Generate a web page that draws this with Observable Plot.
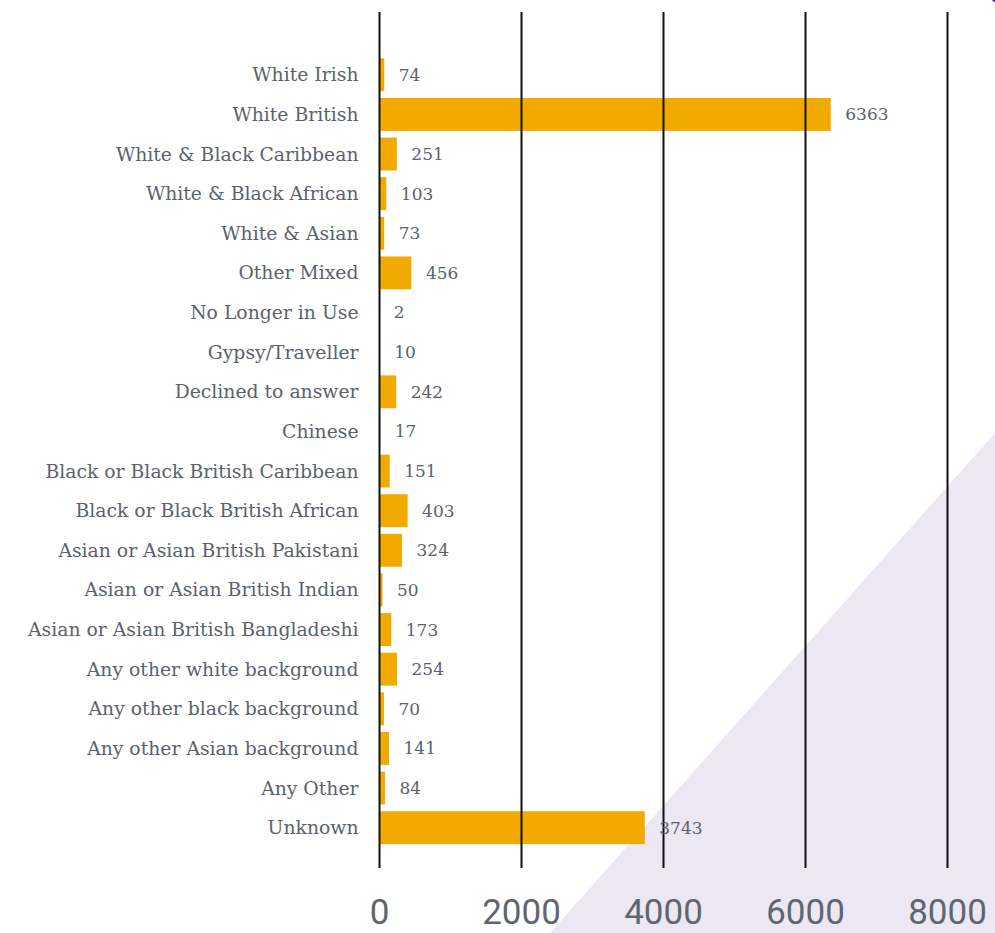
<!DOCTYPE html>
<html>
<head>
<meta charset="utf-8">
<script src="https://cdn.jsdelivr.net/npm/d3@7"></script>
<script src="https://cdn.jsdelivr.net/npm/@observablehq/plot@0.6"></script>
<style>
  html, body { margin: 0; padding: 0; background: #ffffff; }
  body { width: 995px; height: 933px; position: relative; overflow: hidden; }
  #bg { position: absolute; left: 0; top: 0; width: 995px; height: 933px;
        background: #ebe7f3; clip-path: polygon(995px 433px, 995px 933px, 550px 933px); }
  #arc { position: absolute; left: 963px; top: -134px; width: 150px; height: 150px;
         border-radius: 50%; border: 4px solid #5b2a86; box-sizing: border-box; }
  #chart { position: absolute; left: 0; top: 0; }
</style>
</head>
<body>
<div id="bg"></div>
<div id="arc"></div>
<div id="chart"></div>
<script>
const categories = [
  "White Irish", "White British", "White & Black Caribbean", "White & Black African",
  "White & Asian", "Other Mixed", "No Longer in Use", "Gypsy/Traveller",
  "Declined to answer", "Chinese", "Black or Black British Caribbean",
  "Black or Black British African", "Asian or Asian British Pakistani",
  "Asian or Asian British Indian", "Asian or Asian British Bangladeshi",
  "Any other white background", "Any other black background",
  "Any other Asian background", "Any Other", "Unknown"
];
const counts = [74, 6363, 251, 103, 73, 456, 2, 10, 242, 17, 151, 403, 324, 50, 173, 254, 70, 141, 84, 3743];
const xTicks = [0, 2000, 4000, 6000, 8000];

const data = categories.map((c, i) => ({category: c, count: counts[i]}));

const chart = Plot.plot({
  width: 995,
  height: 933,
  marginTop: 12,
  marginBottom: 65,
  marginLeft: 379,
  marginRight: 48,
  style: {background: "transparent", fontFamily: "'DejaVu Serif', serif", color: "#5f6670", overflow: "visible"},
  x: {domain: [0, 8000], axis: null},
  y: {domain: categories, paddingInner: 0.17, paddingOuter: 0.886, align: 0.66, round: false, axis: null},
  marks: [
    Plot.barX(data, {x: "count", y: "category", fill: "#f2aa00"}),
    Plot.ruleX(xTicks, {stroke: "#111", strokeWidth: 2}),
    Plot.axisY({tickSize: 0, tickPadding: 21, fontSize: 18.8, fill: "#5a626c", label: null,
                fontFamily: "'DejaVu Serif', serif"}),
    Plot.axisX({ticks: xTicks, tickSize: 0, tickPadding: 31, fontSize: 35, fill: "#5f6670",
                label: null, tickFormat: d => String(d), fontFamily: "Roboto, sans-serif"}),
    Plot.text(data, {x: "count", y: "category", text: d => String(d.count), dx: 14,
                     textAnchor: "start", fontSize: 17, fill: "#5a626c",
                     fontFamily: "'DejaVu Serif', serif"})
  ]
});
document.getElementById("chart").appendChild(chart);
</script>
</body>
</html>
